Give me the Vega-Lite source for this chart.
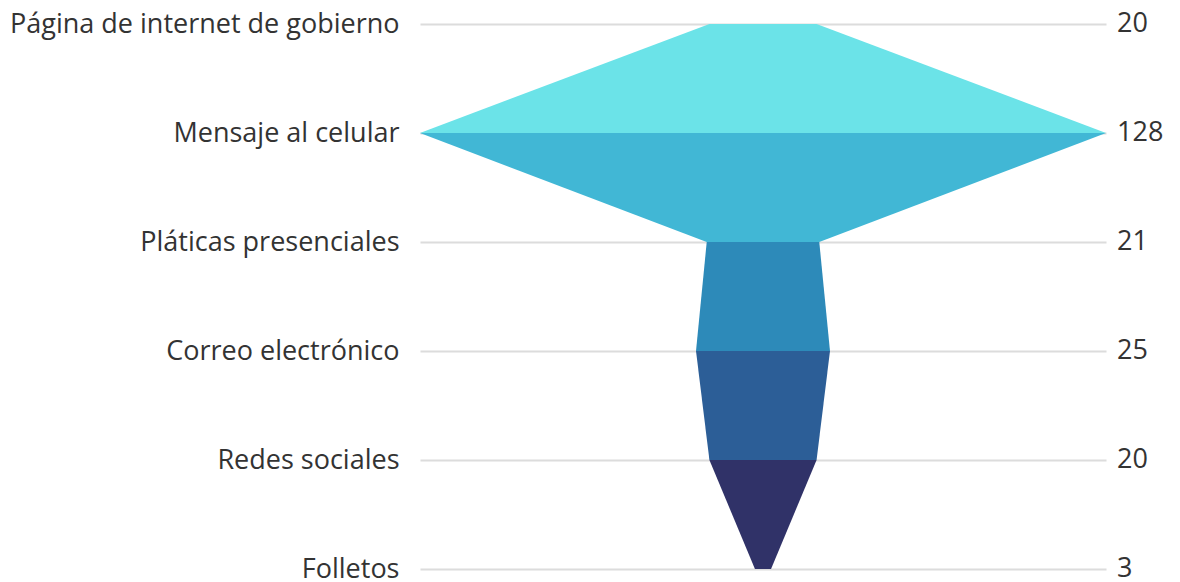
{
  "$schema": "https://vega.github.io/schema/vega-lite/v6.json",
  "width": 686,
  "height": 545,
  "autosize": "none",
  "padding": {"left": 420, "top": 24, "right": 74, "bottom": 13},
  "config": {"view": {"stroke": null}, "font": "Open Sans", "background": "white"},
  "layer": [
    {
      "data": {
        "values": [
          {"segment": "s1", "category": "Página de internet de gobierno", "value": 20},
          {"segment": "s1", "category": "Mensaje al celular", "value": 128},
          {"segment": "s2", "category": "Mensaje al celular", "value": 128},
          {"segment": "s2", "category": "Pláticas presenciales", "value": 21},
          {"segment": "s3", "category": "Pláticas presenciales", "value": 21},
          {"segment": "s3", "category": "Correo electrónico", "value": 25},
          {"segment": "s4", "category": "Correo electrónico", "value": 25},
          {"segment": "s4", "category": "Redes sociales", "value": 20},
          {"segment": "s5", "category": "Redes sociales", "value": 20},
          {"segment": "s5", "category": "Folletos", "value": 3}
        ]
      },
      "transform": [
        {"stack": "value", "groupby": ["segment", "category"], "offset": "center", "as": ["x0", "x1"]}
      ],
      "mark": {"type": "area", "orient": "horizontal"},
      "encoding": {
        "y": {
          "field": "category",
          "type": "ordinal",
          "sort": ["Página de internet de gobierno", "Mensaje al celular", "Pláticas presenciales", "Correo electrónico", "Redes sociales", "Folletos"],
          "scale": {"type": "point", "padding": 0},
          "axis": {
            "title": null,
            "domain": false,
            "ticks": false,
            "tickSize": 0,
            "labelPadding": 21,
            "labelLimit": 0,
            "labelFont": "Open Sans",
            "labelFontSize": 27,
            "labelColor": "#333333",
            "grid": true,
            "gridColor": "#dcdcdc",
            "gridWidth": 2
          }
        },
        "x": {"field": "x0", "type": "quantitative", "stack": null, "scale": {"domain": [0, 128], "nice": false, "zero": false}, "axis": null},
        "x2": {"field": "x1"},
        "color": {
          "field": "segment",
          "type": "nominal",
          "scale": {"domain": ["s1", "s2", "s3", "s4", "s5"], "range": ["#6BE3E8", "#41B7D5", "#2D8AB9", "#2C5E97", "#303268"]},
          "legend": null
        }
      }
    },
    {
      "data": {
        "values": [
          {"category": "Página de internet de gobierno", "value": 20},
          {"category": "Mensaje al celular", "value": 128},
          {"category": "Pláticas presenciales", "value": 21},
          {"category": "Correo electrónico", "value": 25},
          {"category": "Redes sociales", "value": 20},
          {"category": "Folletos", "value": 3}
        ]
      },
      "mark": {"type": "text", "align": "left", "baseline": "middle", "dx": 11, "font": "Open Sans", "fontSize": 27, "color": "#333333"},
      "encoding": {
        "y": {
          "field": "category",
          "type": "ordinal",
          "sort": ["Página de internet de gobierno", "Mensaje al celular", "Pláticas presenciales", "Correo electrónico", "Redes sociales", "Folletos"]
        },
        "x": {"datum": 128, "type": "quantitative"},
        "text": {"field": "value", "type": "quantitative"}
      }
    }
  ]
}
